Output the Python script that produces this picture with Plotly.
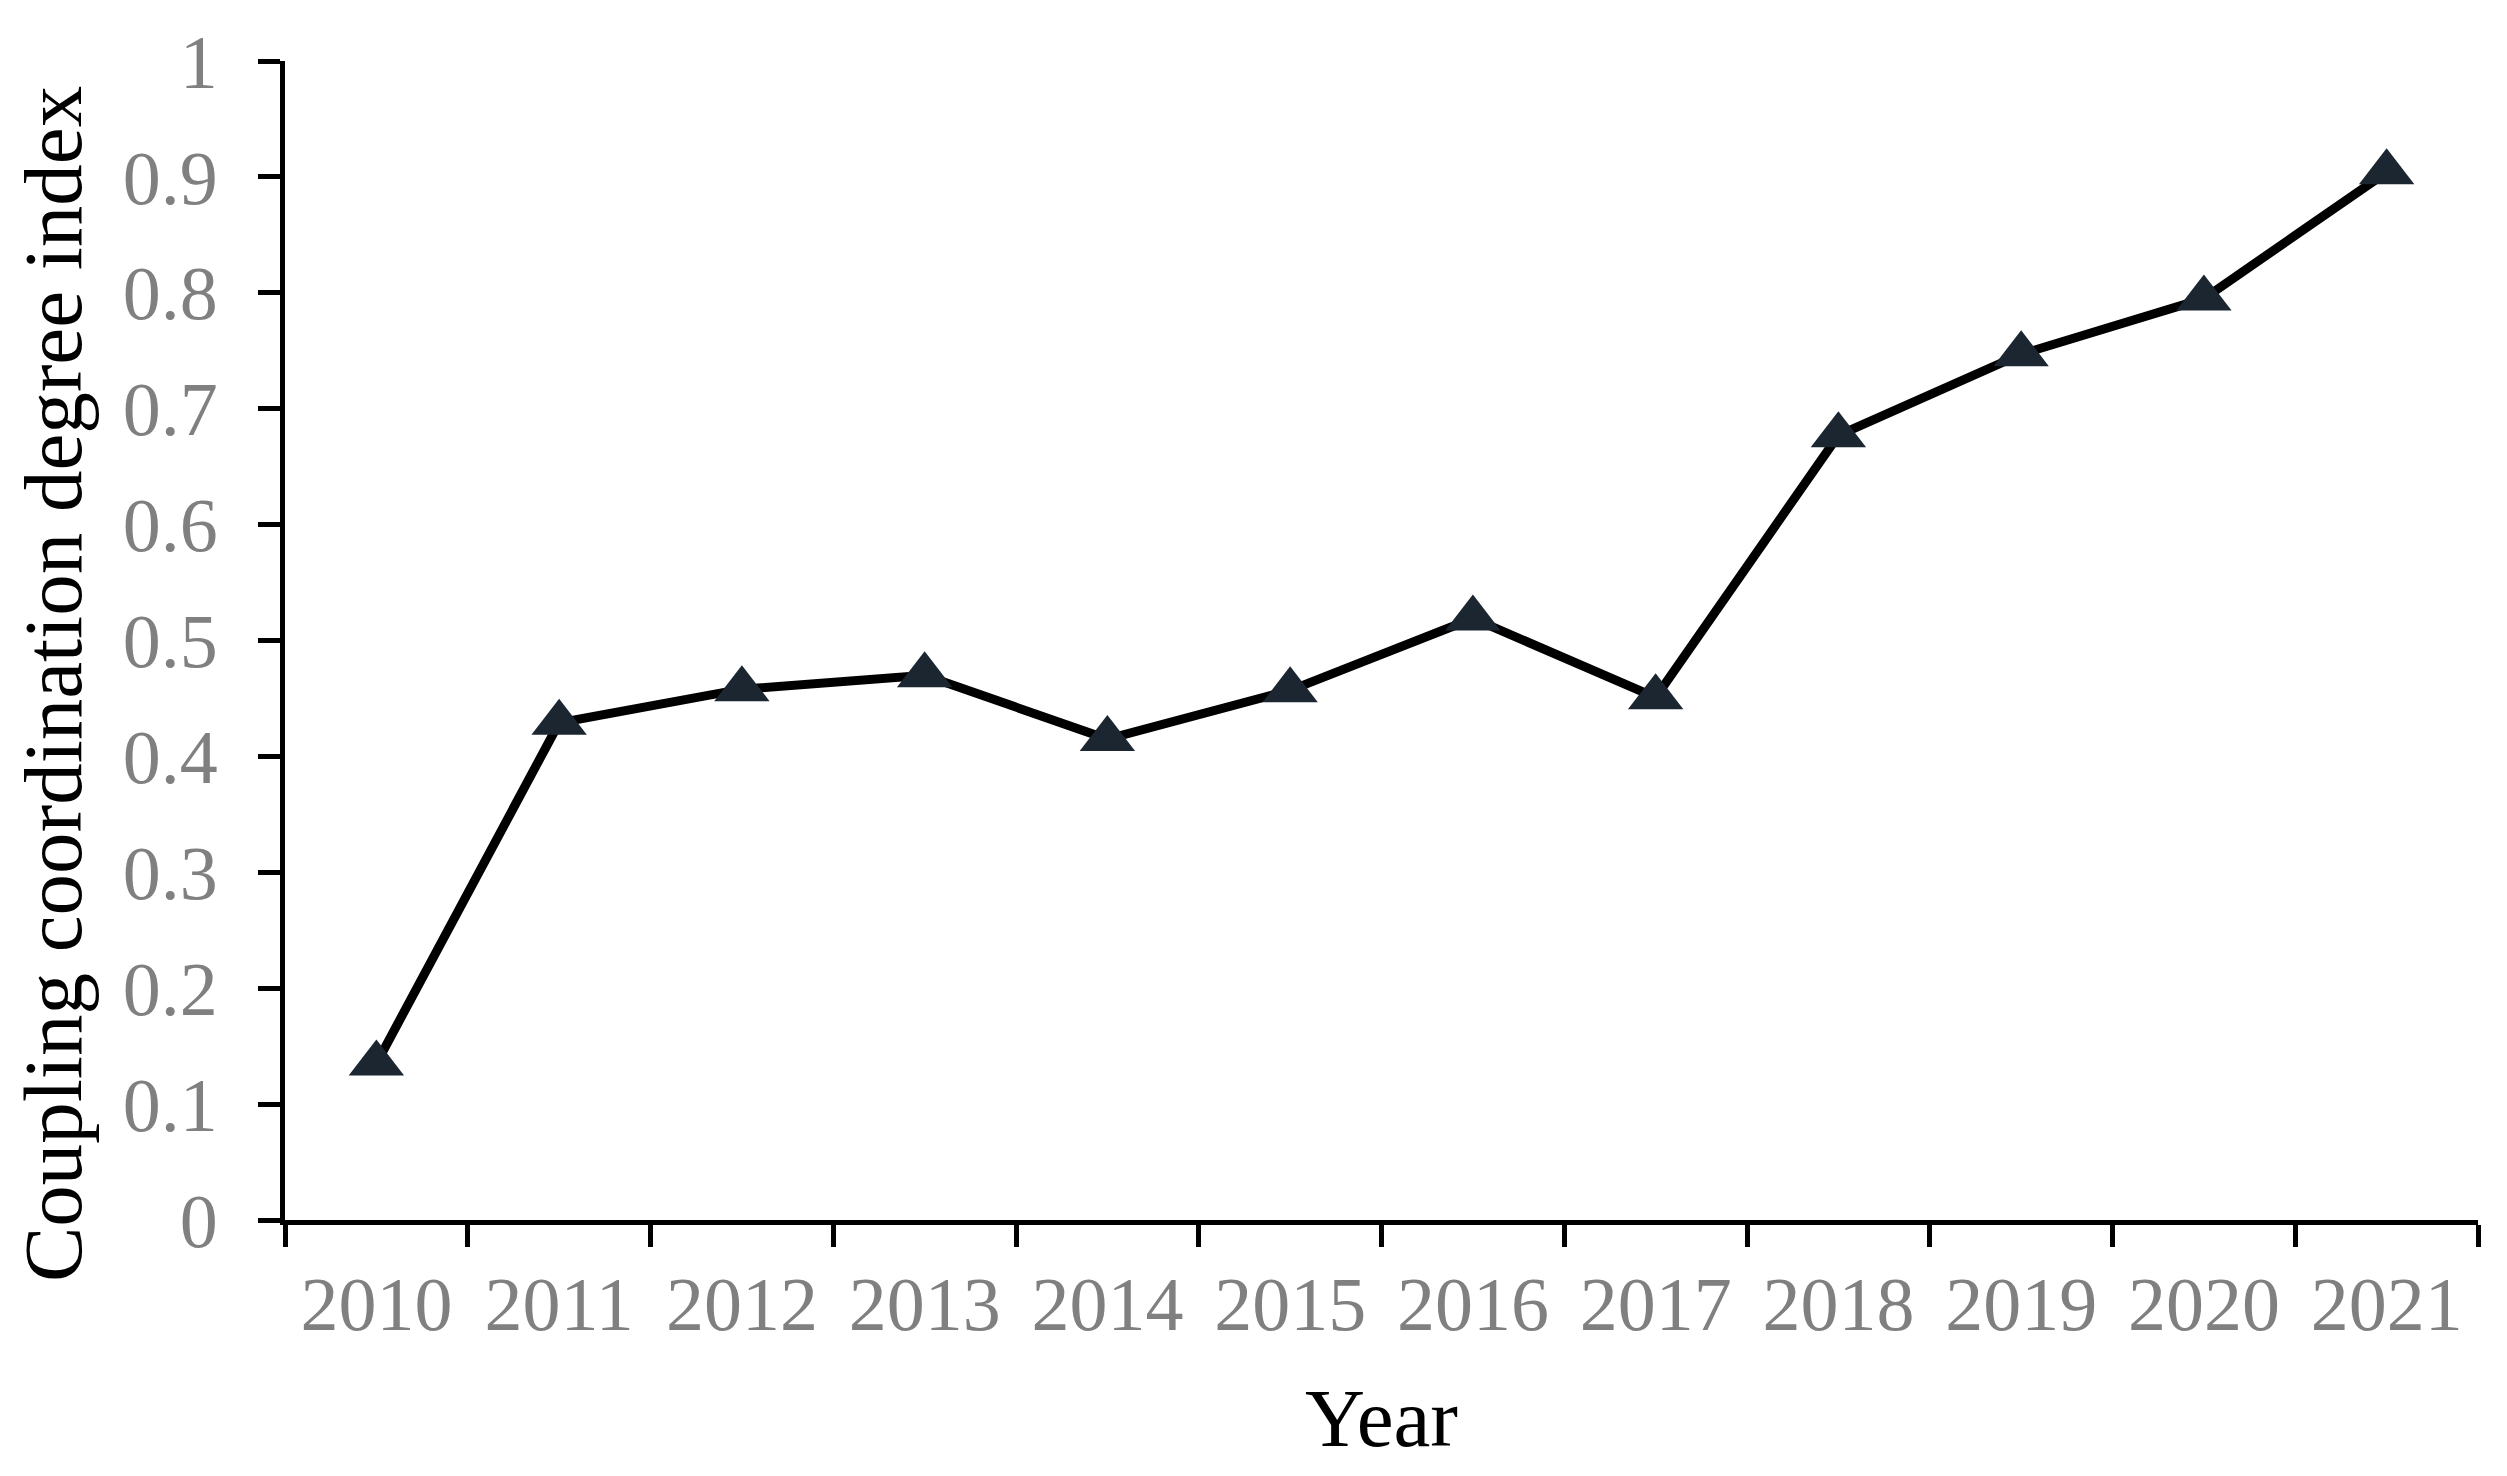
import plotly.graph_objects as go

years = ["2010", "2011", "2012", "2013", "2014", "2015", "2016", "2017", "2018", "2019", "2020", "2021"]
values = [0.135, 0.429, 0.458, 0.470, 0.415, 0.457, 0.519, 0.451, 0.677, 0.747, 0.795, 0.904]
y_ticks = [0, 0.1, 0.2, 0.3, 0.4, 0.5, 0.6, 0.7, 0.8, 0.9, 1.0]
y_tick_labels = ["0", "0.1", "0.2", "0.3", "0.4", "0.5", "0.6", "0.7", "0.8", "0.9", "1"]

FONT = "Liberation Serif"

fig = go.Figure()
fig.add_trace(go.Scatter(
    x=years, y=values, mode="lines+markers",
    line=dict(color="#000000", width=9),
    marker=dict(symbol="triangle-up", size=48, color="#1b2631",
                line=dict(width=0)),
    showlegend=False,
))

fig.update_layout(
    width=2507, height=1476,
    margin=dict(l=277, r=37, t=50, b=264),
    paper_bgcolor="white", plot_bgcolor="white",
    font=dict(family=FONT, color="#808080"),
    xaxis=dict(
        type="category", range=[-0.5, 11.5],
        showline=True, linecolor="#000000", linewidth=5,
        ticks="outside", tickson="boundaries", ticklen=22, tickwidth=5, tickcolor="#000000",
        tickfont=dict(family=FONT, size=76, color="#808080"),
        ticklabelstandoff=14,
        showgrid=False, zeroline=False,
        title=dict(text="Year", font=dict(family=FONT, size=83, color="#000000"), standoff=44),
    ),
    yaxis=dict(
        range=[0, 1], tickvals=y_ticks, ticktext=y_tick_labels,
        showline=True, linecolor="#000000", linewidth=5,
        ticks="outside", ticklen=22, tickwidth=5, tickcolor="#000000",
        tickfont=dict(family=FONT, size=76, color="#808080"),
        ticklabelstandoff=25,
        showgrid=False, zeroline=False,
    ),
    annotations=[dict(
        text="Coupling coordination degree index",
        xref="paper", yref="paper", x=-0.106, y=0.462,
        xanchor="center", yanchor="middle", textangle=-90, showarrow=False,
        font=dict(family=FONT, size=83, color="#000000"),
    )],
)

fig.write_html("out.html")
